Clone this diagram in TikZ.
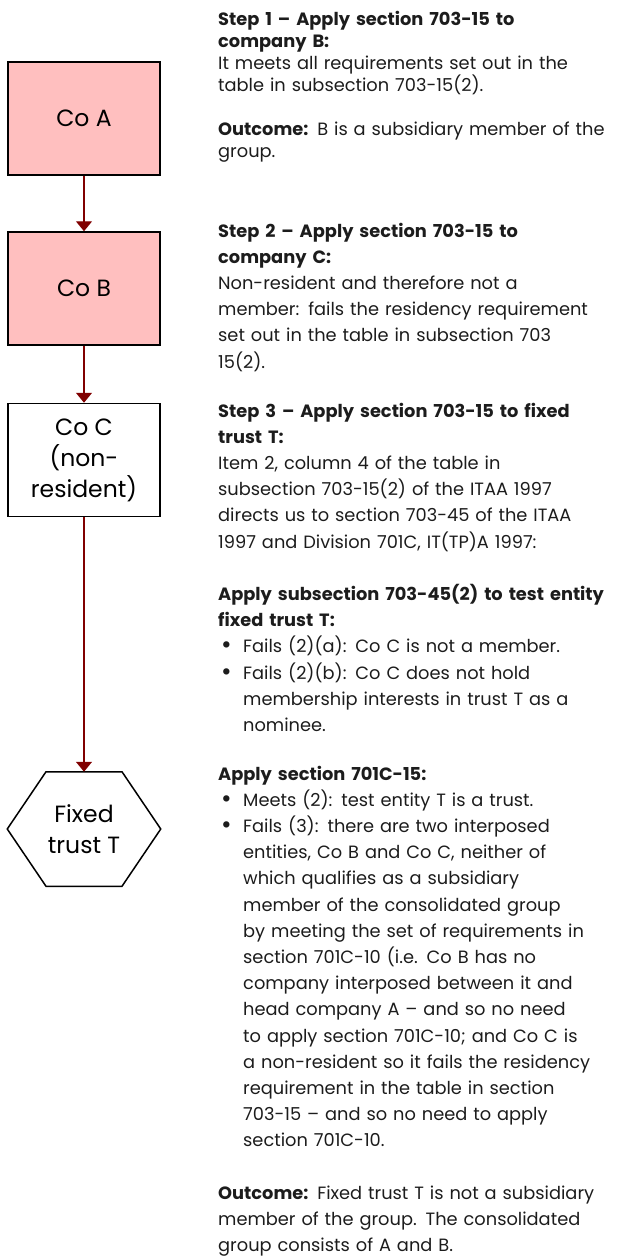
\documentclass[tikz,border=0pt]{standalone}
\usepackage{fontspec}
\setmainfont{Poppins}
\usetikzlibrary{arrows.meta}

\definecolor{coPink}{RGB}{255,191,191}
\definecolor{linkRed}{RGB}{128,0,0}
\definecolor{noteGrey}{RGB}{28,28,28}

\newcommand{\bul}{\makebox[25pt][l]{\hspace{3pt}\raisebox{-1pt}{\scalebox{1.45}{\textbullet}}}}
\newcommand{\ind}{\hspace*{25pt}}

\begin{document}
\begin{tikzpicture}[x=1pt, y=-1pt,
  company/.style={draw, line width=1.5pt, minimum width=152pt, minimum height=113pt, align=center, inner sep=0pt, font=\fontsize{23.5}{31}\selectfont},
  link/.style={draw=linkRed, line width=1.3pt, -{Triangle[width=16pt,length=10pt]}},
  notes/.style={anchor=base west, text width=460pt, align=left, inner sep=0pt, text=noteGrey, font=\fontsize{17.8}{26.2}\selectfont}]
\useasboundingbox (0,0) rectangle (618,1259);

% group entities
\node[company, fill=coPink] (coA) at (84,118.5) {Co A};
\node[company, fill=coPink] (coB) at (84,288.5) {Co B};
\node[company, fill=white]  (coC) at (84,460)   {Co C\\(non-\\resident)};
\node[company, draw=none]   (trustT) at (84,829) {Fixed\\trust T};
\draw[line width=1.5pt] ([xshift=-38pt]trustT.north) -- ([xshift=38pt]trustT.north) -- (trustT.east) -- ([xshift=38pt]trustT.south) -- ([xshift=-38pt]trustT.south) -- (trustT.west) -- cycle;

% ownership chain
\draw[link] (coA) -- (coB);
\draw[link] (coB) -- (coC);
\draw[link] (coC) -- (trustT);

% steps
\node[notes, font=\fontsize{17.8}{22}\selectfont] (step1) at (218,25) {%
  \textbf{Step 1 – Apply section 703-15 to}\\
  \textbf{company B:}\\
  It meets all requirements set out in the\\
  table in subsection 703-15(2).\\[22pt]
  \textbf{Outcome:} B is a subsidiary member of the\\
  group.};
\node[notes] (step2) at (218,237) {%
  \textbf{Step 2 – Apply section 703-15 to}\\
  \textbf{company C:}\\
  Non-resident and therefore not a\\
  member: fails the residency requirement\\
  set out in the table in subsection 703\\
  15(2).};
\node[notes] (step3) at (218,417) {%
  \textbf{Step 3 – Apply section 703-15 to fixed}\\
  \textbf{trust T:}\\
  Item 2, column 4 of the table in\\
  subsection 703-15(2) of the ITAA 1997\\
  directs us to section 703-45 of the ITAA\\
  1997 and Division 701C, IT(TP)A 1997:\\[26.2pt]
  \textbf{Apply subsection 703-45(2) to test entity}\\
  \textbf{fixed trust T:}\\
  \bul Fails (2)(a): Co C is not a member.\\
  \bul Fails (2)(b): Co C does not hold\\
  \ind membership interests in trust T as a\\
  \ind nominee.};
\node[notes] (step4) at (218,780) {%
  \textbf{Apply section 701C-15:}\\
  \bul Meets (2): test entity T is a trust.\\
  \bul Fails (3): there are two interposed\\
  \ind entities, Co B and Co C, neither of\\
  \ind which qualifies as a subsidiary\\
  \ind member of the consolidated group\\
  \ind by meeting the set of requirements in\\
  \ind section 701C-10 (i.e. Co B has no\\
  \ind company interposed between it and\\
  \ind head company A – and so no need\\
  \ind to apply section 701C-10; and Co C is\\
  \ind a non-resident so it fails the residency\\
  \ind requirement in the table in section\\
  \ind 703-15 – and so no need to apply\\
  \ind section 701C-10.\\[26.2pt]
  \textbf{Outcome:} Fixed trust T is not a subsidiary\\
  member of the group. The consolidated\\
  group consists of A and B.};

\end{tikzpicture}
\end{document}
